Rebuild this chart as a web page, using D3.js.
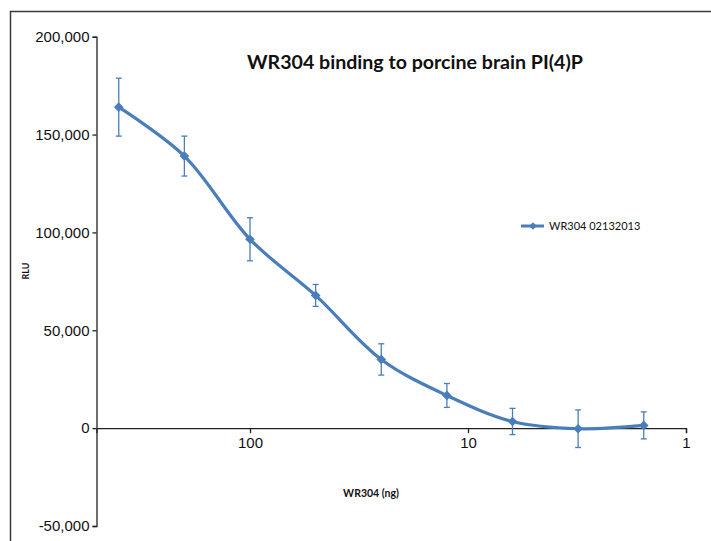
<!DOCTYPE html>
<html>
<head>
<meta charset="utf-8">
<script src="https://cdn.jsdelivr.net/npm/d3@7"></script>
<style>
  body { margin: 0; background: #fff; }
  svg { display: block; }
</style>
</head>
<body>
<div id="chart"></div>
<script>
var amounts = [400, 200, 100, 50, 25, 12.5, 6.25, 3.125, 1.5625];
var rlu     = [164000, 139000, 96500, 67800, 35100, 16700, 3400, -300, 1400];
var errs    = [14800, 10200, 11000, 5600, 8000, 6100, 6700, 9600, 6900];
var yTicks  = [-50000, 0, 50000, 100000, 150000, 200000];
var xTicks  = [100, 10, 1];
var seriesName = 'WR304 02132013';

var width = 711, height = 541;
var blue = '#4a7ebb';

var svg = d3.select('#chart')
    .append('svg')
    .attr('width', width)
    .attr('height', height);

// chart frame (runs off right/bottom)
svg.append('rect')
    .attr('x', 10.5)
    .attr('y', 11.5)
    .attr('width', 720)
    .attr('height', 560)
    .attr('fill', 'none')
    .attr('stroke', '#3a3a3a')
    .attr('stroke-width', 1.5);

var x = d3.scaleLog()
    .domain([506, 1])
    .range([96.5, 686]);

var y = d3.scaleLinear()
    .domain([-50000, 200000])
    .range([526, 36.7]);

// plain hyphen for negatives, like the original
var fmt = function(v) { return d3.format(',')(v).replace('\u2212', '-'); };

// y axis
var yAxis = svg.append('g')
    .attr('transform', 'translate(' + x.range()[0] + ',0)')
    .call(d3.axisLeft(y).tickValues(yTicks).tickFormat(fmt).tickSize(4).tickPadding(3));
yAxis.select('.domain').attr('stroke', '#222').attr('stroke-width', 1.3);
yAxis.selectAll('.tick line').attr('stroke', '#222').attr('stroke-width', 1.3);
yAxis.selectAll('text')
    .attr('font-family', 'Liberation Sans, Arial, sans-serif')
    .attr('font-size', 15)
    .attr('fill', '#111');

// x axis at y = 0
var xAxis = svg.append('g')
    .attr('transform', 'translate(0,' + y(0) + ')')
    .call(d3.axisBottom(x).tickValues(xTicks).tickFormat(d3.format('d')).tickSize(5).tickSizeOuter(5).tickPadding(4));
xAxis.select('.domain').attr('stroke', '#222').attr('stroke-width', 1.3);
xAxis.selectAll('.tick line').attr('stroke', '#222').attr('stroke-width', 1.3);
xAxis.selectAll('text')
    .attr('font-family', 'Liberation Sans, Arial, sans-serif')
    .attr('font-size', 15)
    .attr('fill', '#111');

var data = amounts.map(function(a, i) {
	return { a: a, v: rlu[i], e: errs[i] };
});

// error bars
var eb = svg.append('g')
    .attr('stroke', blue)
    .attr('stroke-width', 1.3);
data.forEach(function(d) {
	var cx = x(d.a);
	eb.append('line')
	    .attr('x1', cx).attr('x2', cx)
	    .attr('y1', y(d.v + d.e)).attr('y2', y(d.v - d.e));
	eb.append('line')
	    .attr('x1', cx - 3).attr('x2', cx + 3)
	    .attr('y1', y(d.v + d.e)).attr('y2', y(d.v + d.e));
	eb.append('line')
	    .attr('x1', cx - 3).attr('x2', cx + 3)
	    .attr('y1', y(d.v - d.e)).attr('y2', y(d.v - d.e));
});

// smoothed line
var line = d3.line()
    .x(function(d) { return x(d.a); })
    .y(function(d) { return y(d.v); })
    .curve(d3.curveCatmullRom.alpha(0.5));

svg.append('path')
    .datum(data)
    .attr('d', line)
    .attr('fill', 'none')
    .attr('stroke', blue)
    .attr('stroke-width', 3.2)
    .attr('stroke-linejoin', 'round');

var diamond = d3.symbol().type(d3.symbolDiamond2).size(60);
svg.selectAll('.marker')
    .data(data)
    .enter().append('path')
    .attr('class', 'marker')
    .attr('d', diamond)
    .attr('transform', function(d) { return 'translate(' + x(d.a) + ',' + y(d.v) + ')'; })
    .attr('fill', blue);

// title
svg.append('text')
    .attr('x', 415)
    .attr('y', 69)
    .attr('text-anchor', 'middle')
    .attr('font-family', 'Lato, Open Sans, sans-serif')
    .attr('font-weight', 'bold')
    .attr('font-size', 19.6)
    .attr('fill', '#111')
    .text('WR304 binding to porcine brain PI(4)P');

// axis titles
svg.append('text')
    .attr('transform', 'translate(29,271) rotate(-90)')
    .attr('text-anchor', 'middle')
    .attr('font-family', 'Lato, Open Sans, sans-serif')
    .attr('font-weight', 'bold')
    .attr('font-size', 9)
    .attr('fill', '#111')
    .text('RLU');

svg.append('text')
    .attr('x', 371)
    .attr('y', 497)
    .attr('text-anchor', 'middle')
    .attr('font-family', 'Lato, Open Sans, sans-serif')
    .attr('font-weight', 'bold')
    .attr('font-size', 10.5)
    .attr('fill', '#111')
    .text('WR304 (ng)');

// legend
var lg = svg.append('g').attr('transform', 'translate(521,226)');
lg.append('line')
    .attr('x1', 0).attr('x2', 23)
    .attr('stroke', blue)
    .attr('stroke-width', 3);
lg.append('path')
    .attr('d', d3.symbol().type(d3.symbolDiamond2).size(36))
    .attr('transform', 'translate(12,0)')
    .attr('fill', blue);
lg.append('text')
    .attr('x', 28)
    .attr('y', 4)
    .attr('font-family', 'Lato, Open Sans, sans-serif')
    .attr('font-size', 11)
    .attr('fill', '#111')
    .text(seriesName);
</script>
</body>
</html>
